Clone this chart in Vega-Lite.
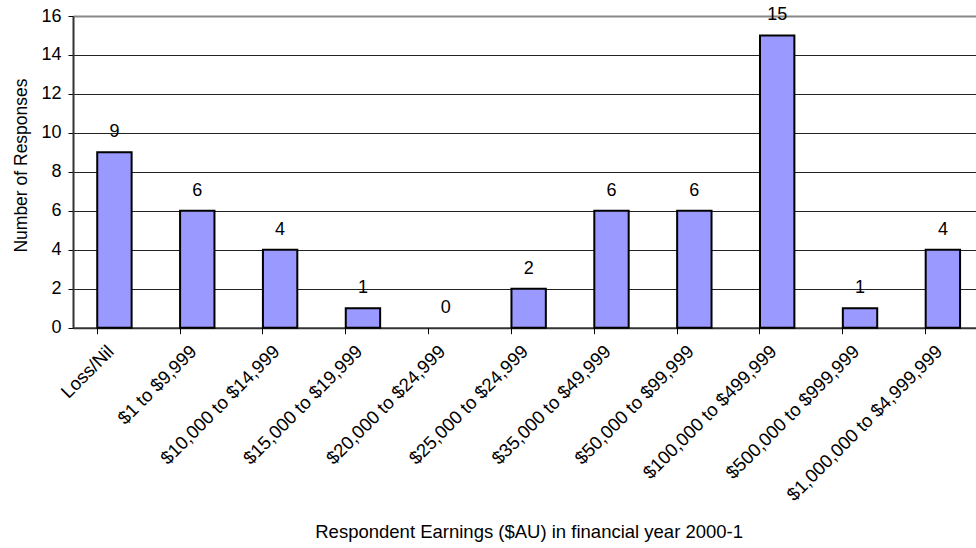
{
  "$schema": "https://vega.github.io/schema/vega-lite/v6.json",
  "autosize": "none",
  "padding": {"left": 73, "top": 16, "right": 0, "bottom": 220.3},
  "width": 903,
  "height": 311.7,
  "background": "white",
  "config": {
    "font": "Liberation Sans",
    "view": {"stroke": null}
  },
  "data": {
    "values": [
      {"range": "Loss/Nil", "count": 9},
      {"range": "$1 to $9,999", "count": 6},
      {"range": "$10,000 to $14,999", "count": 4},
      {"range": "$15,000 to $19,999", "count": 1},
      {"range": "$20,000 to $24,999", "count": 0},
      {"range": "$25,000 to $24,999", "count": 2},
      {"range": "$35,000 to $49,999", "count": 6},
      {"range": "$50,000 to $99,999", "count": 6},
      {"range": "$100,000 to $499,999", "count": 15},
      {"range": "$500,000 to $999,999", "count": 1},
      {"range": "$1,000,000 to $4,999,999", "count": 4}
    ]
  },
  "encoding": {
    "y": {
      "field": "count", "type": "quantitative",
      "scale": {"domain": [0, 16], "nice": false},
      "axis": {
        "title": "Number of Responses",
        "titleFontSize": 17.5, "titleFontWeight": "normal", "titleColor": "#000",
        "titleX": -47, "titleY": 149, "titleAlign": "center", "titleBaseline": "alphabetic", "titleAngle": -90,
        "values": [0, 2, 4, 6, 8, 10, 12, 14, 16],
        "labelFontSize": 18, "labelColor": "#000", "labelPadding": 7, "labelOverlap": false,
        "tickSize": 5, "tickColor": "#000", "tickWidth": 1,
        "domainColor": "#333", "domainWidth": 2,
        "grid": true,
        "gridColor": {"condition": {"test": "datum.value == 16", "value": "#888888"}, "value": "#222222"},
        "gridWidth": {"condition": {"test": "datum.value == 16", "value": 2}, "value": 1},
        "gridOpacity": 1
      }
    }
  },
  "layer": [
    {
      "mark": {"type": "bar", "fill": "#9999FF", "strokeWidth": 2},
      "encoding": {
        "x": {
          "field": "range", "type": "nominal", "sort": null,
          "scale": {"range": [0, 911.3], "paddingInner": 0.585, "paddingOuter": 0.2925},
          "axis": {
            "orient": "bottom",
            "title": "Respondent Earnings ($AU) in financial year 2000-1",
            "titleFontSize": 18.5, "titleFontWeight": "normal", "titleColor": "#000",
            "titleY": 210, "titleBaseline": "alphabetic",
            "labelAngle": -45, "labelFontSize": 18.5, "labelColor": "#000",
            "labelPadding": 14, "labelOffset": -10, "labelLimit": 400,
            "ticks": false, "domain": true, "domainColor": "#333", "domainWidth": 2,
            "grid": false
          }
        },
        "stroke": {"condition": {"test": "datum.count == 0", "value": null}, "value": "#000000"}
      }
    },
    {
      "mark": {"type": "text", "fontSize": 18, "color": "#000", "baseline": "alphabetic", "dy": -15},
      "encoding": {
        "x": {
          "field": "range", "type": "nominal", "sort": null,
          "axis": {
            "orient": "bottom", "bandPosition": 0, "labels": false, "title": null,
            "ticks": true, "tickSize": 6, "tickColor": "#000", "tickWidth": 1,
            "domain": false, "grid": false
          }
        },
        "text": {"field": "count", "type": "quantitative"}
      }
    }
  ],
  "resolve": {"axis": {"x": "independent"}}
}
